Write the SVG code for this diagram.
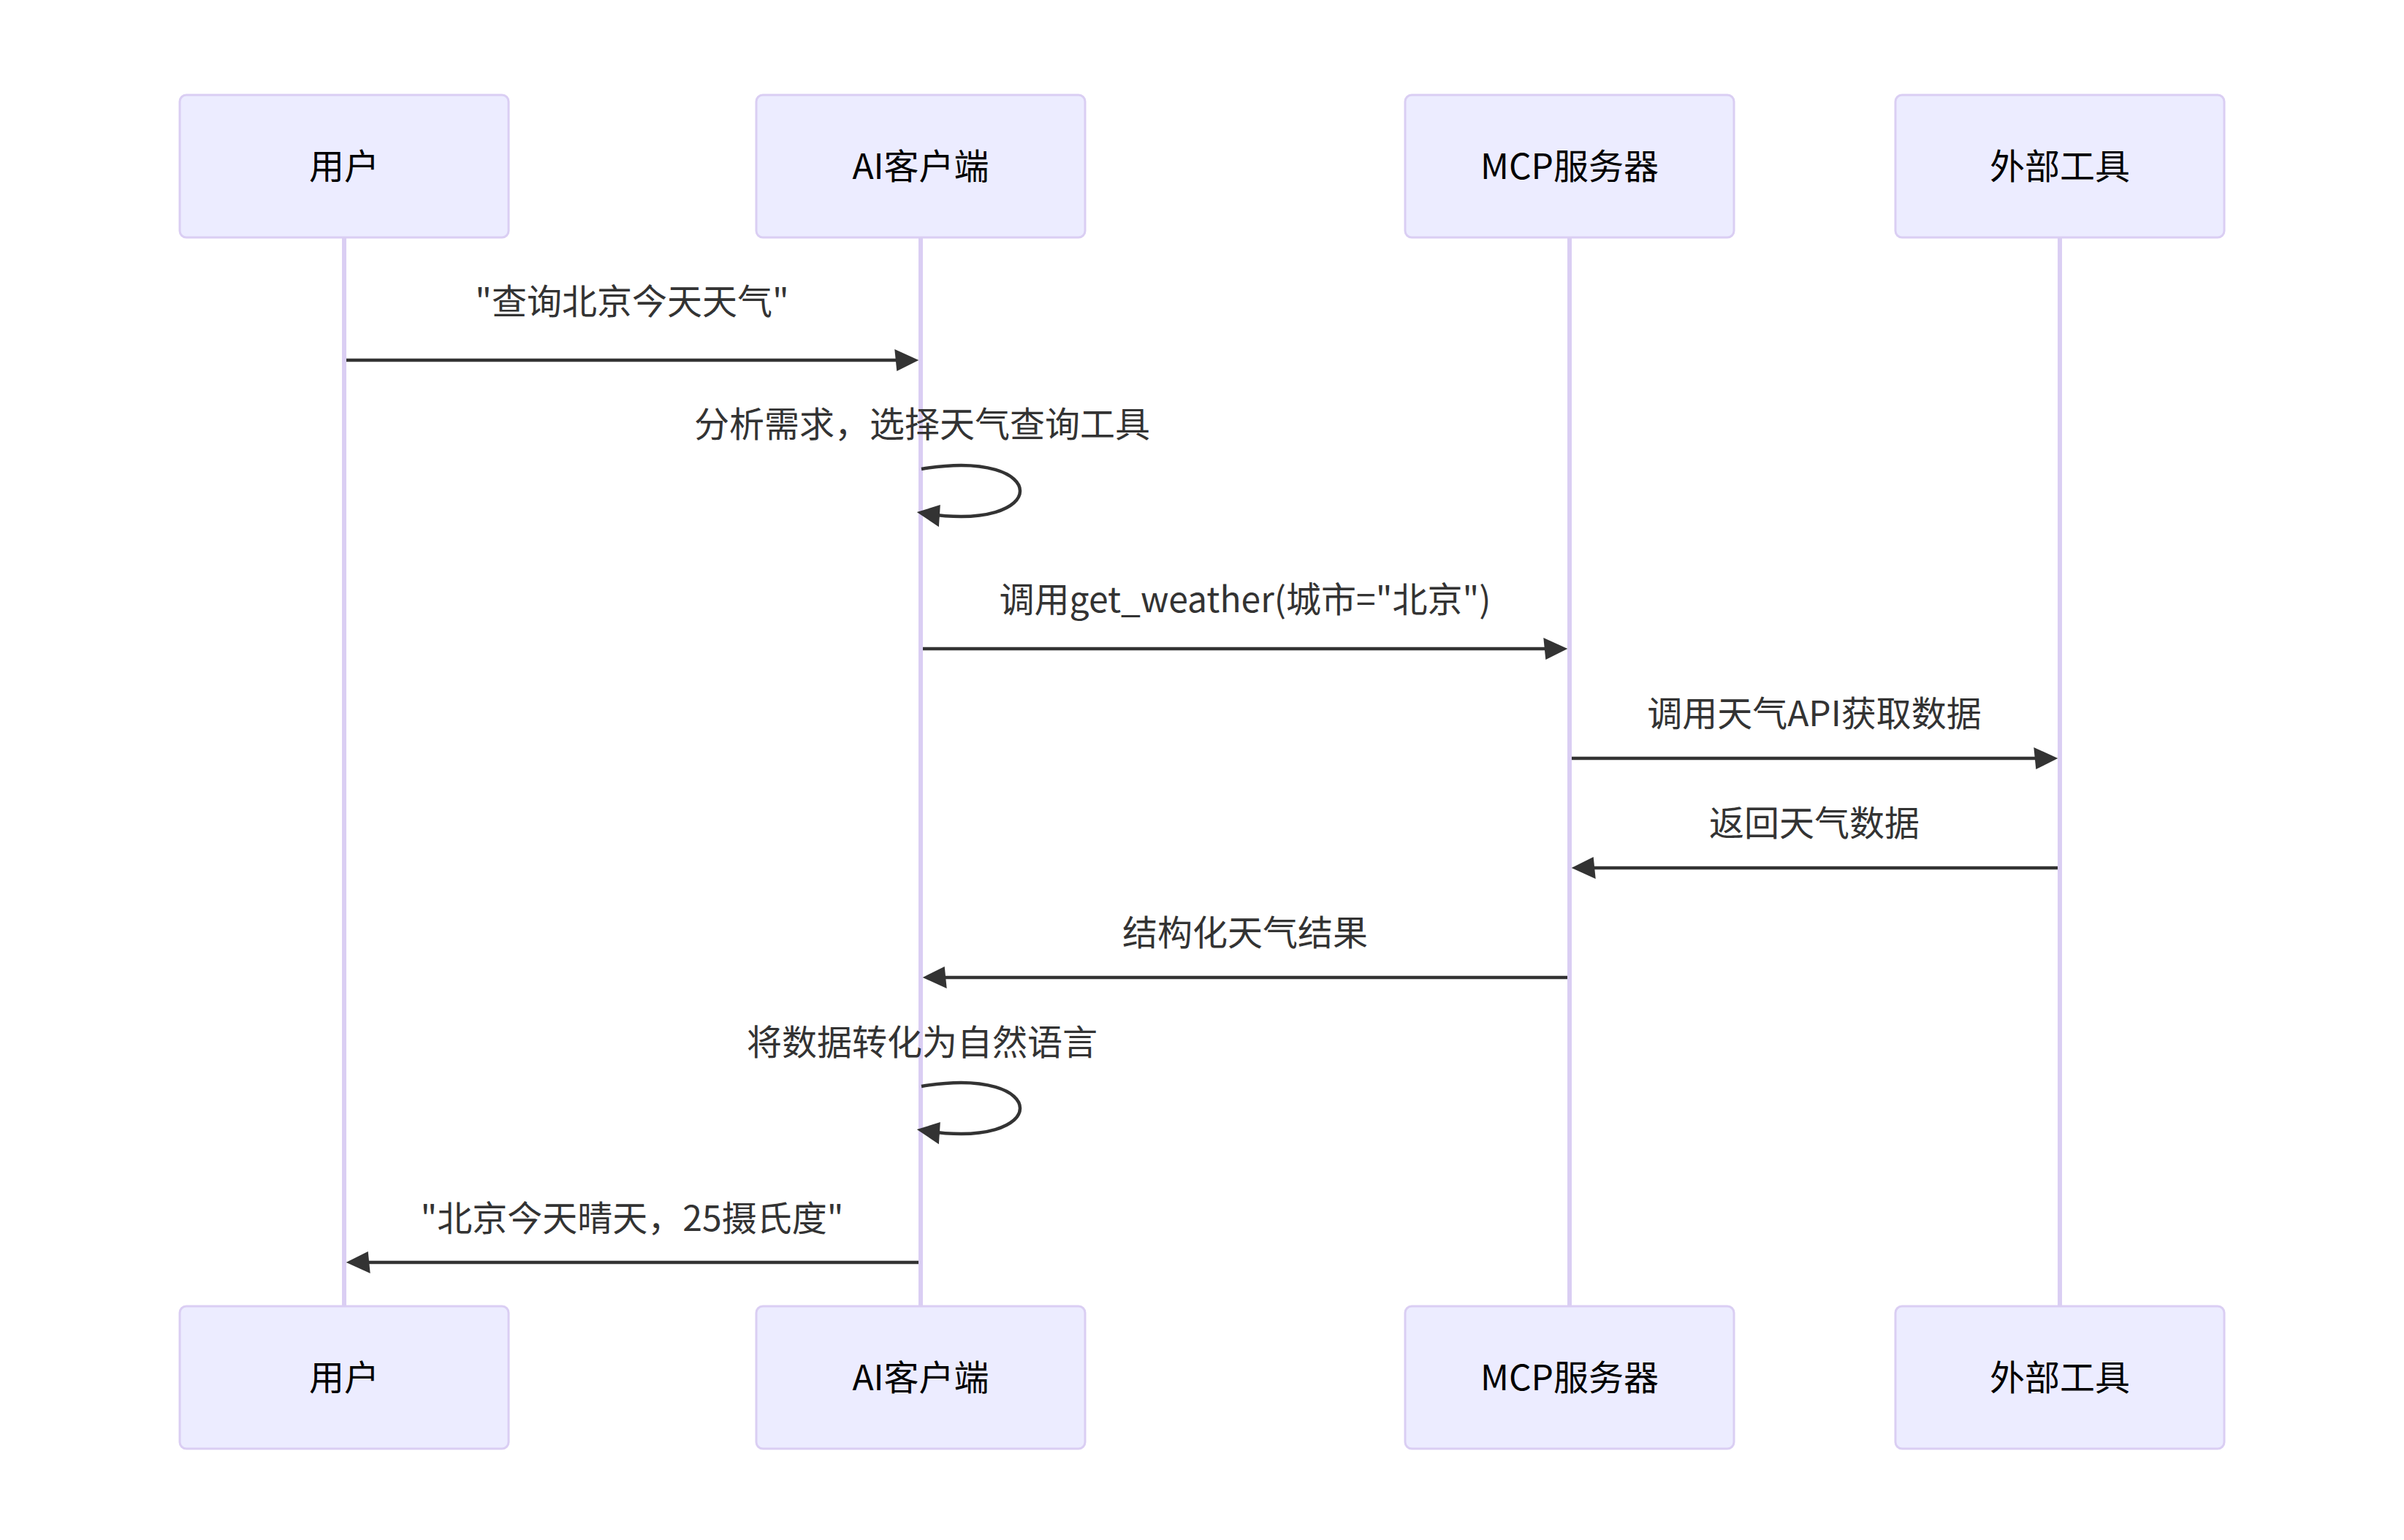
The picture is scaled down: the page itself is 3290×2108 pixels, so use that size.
<svg xmlns="http://www.w3.org/2000/svg" width="3290" height="2108" viewBox="0 0 3290 2108">
<style>
.actor{fill:#ECECFF;stroke:#DACEF3;stroke-width:3}
.alabel{font-family:"Noto Sans CJK SC","Noto Sans",sans-serif;font-size:48px;fill:#000000;text-anchor:middle}
.lifeline{stroke:#DACEF3;stroke-width:6}
.msg{stroke:#333333;stroke-width:4.5;fill:none;marker-end:url(#arrowhead)}
.mtext{font-family:"Noto Sans CJK SC","Noto Sans",sans-serif;font-size:48px;fill:#333333;text-anchor:middle}
</style>
<defs>
<marker id="arrowhead" markerUnits="userSpaceOnUse" refX="23.7" refY="15" markerWidth="36" markerHeight="36" orient="auto" overflow="visible">
<path d="M -3 0 L 30 15 L 0 30 z" fill="#333333"/>
</marker>
</defs>
<rect x="0" y="0" width="3290" height="2108" fill="#ffffff"/>
<g id="lifelines">
<line class="lifeline" x1="471" y1="325" x2="471" y2="1788"/>
<line class="lifeline" x1="1260" y1="325" x2="1260" y2="1788"/>
<line class="lifeline" x1="2148" y1="325" x2="2148" y2="1788"/>
<line class="lifeline" x1="2819" y1="325" x2="2819" y2="1788"/>
</g>
<g id="actor-user">
<rect class="actor" x="246" y="130" width="450" height="195" rx="9" ry="9"/>
<text class="alabel" x="471" y="245">用户</text>
<rect class="actor" x="246" y="1788" width="450" height="195" rx="9" ry="9"/>
<text class="alabel" x="471" y="1903">用户</text>
</g>
<g id="actor-client">
<rect class="actor" x="1035" y="130" width="450" height="195" rx="9" ry="9"/>
<text class="alabel" x="1260" y="245">AI客户端</text>
<rect class="actor" x="1035" y="1788" width="450" height="195" rx="9" ry="9"/>
<text class="alabel" x="1260" y="1903">AI客户端</text>
</g>
<g id="actor-server">
<rect class="actor" x="1923" y="130" width="450" height="195" rx="9" ry="9"/>
<text class="alabel" x="2148" y="245">MCP服务器</text>
<rect class="actor" x="1923" y="1788" width="450" height="195" rx="9" ry="9"/>
<text class="alabel" x="2148" y="1903">MCP服务器</text>
</g>
<g id="actor-tool">
<rect class="actor" x="2594" y="130" width="450" height="195" rx="9" ry="9"/>
<text class="alabel" x="2819" y="245">外部工具</text>
<rect class="actor" x="2594" y="1788" width="450" height="195" rx="9" ry="9"/>
<text class="alabel" x="2819" y="1903">外部工具</text>
</g>
<g id="connectors">
<text class="mtext" x="865" y="430">"查询北京今天天气"</text>
<line class="msg" x1="474" y1="493" x2="1251" y2="493"/>
<text class="mtext" x="1262" y="598">分析需求，选择天气查询工具</text>
<path class="msg" d="M 1261,642 C 1441,612 1441,732 1261,702"/>
<text class="mtext" x="1704" y="838">调用get_weather(城市="北京")</text>
<line class="msg" x1="1263" y1="888" x2="2139" y2="888"/>
<text class="mtext" x="2483" y="994">调用天气API获取数据</text>
<line class="msg" x1="2151" y1="1038" x2="2810" y2="1038"/>
<text class="mtext" x="2483" y="1144">返回天气数据</text>
<line class="msg" x1="2816" y1="1188" x2="2157" y2="1188"/>
<text class="mtext" x="1704" y="1294">结构化天气结果</text>
<line class="msg" x1="2145" y1="1338" x2="1269" y2="1338"/>
<text class="mtext" x="1262" y="1444">将数据转化为自然语言</text>
<path class="msg" d="M 1261,1487 C 1441,1457 1441,1577 1261,1547"/>
<text class="mtext" x="865" y="1685">"北京今天晴天，25摄氏度"</text>
<line class="msg" x1="1257" y1="1728" x2="480" y2="1728"/>
</g>
</svg>
